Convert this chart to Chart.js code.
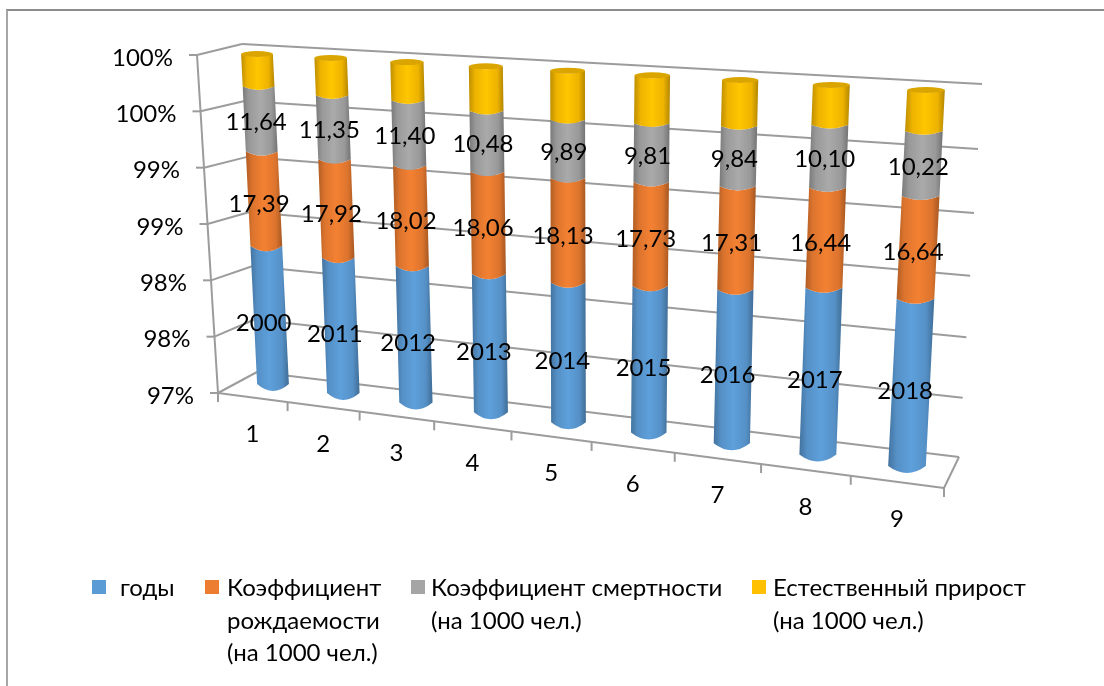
<!DOCTYPE html>
<html>
<head>
<meta charset="utf-8">
<style>
  html, body { margin: 0; padding: 0; background: #fff; overflow: hidden; }
  #frame { position: absolute; left: 6px; top: 9px; width: 1200px; height: 800px; border: 2px solid #a6a6a6; border-top-color: #8c8c8c; }
  canvas { position: absolute; left: 0; top: 0; }
  .legend-item { position: absolute; top: 571px; font: 24px/32.5px Lato, 'Noto Sans', sans-serif; color: #000; white-space: nowrap; }
  .legend-box { position: absolute; top: 9px; width: 14px; height: 14px; }
</style>
<script src="https://cdn.jsdelivr.net/npm/chart.js@4"></script>
</head>
<body>
<div id="frame"></div>
<canvas id="chart" width="1104" height="686"></canvas>
<div id="legend"></div>
<script>
const categories = ["1", "2", "3", "4", "5", "6", "7", "8", "9"];
const years = [2000, 2011, 2012, 2013, 2014, 2015, 2016, 2017, 2018];
const birthRate = [17.39, 17.92, 18.02, 18.06, 18.13, 17.73, 17.31, 16.44, 16.64];
const deathRate = [11.64, 11.35, 11.40, 10.48, 9.89, 9.81, 9.84, 10.10, 10.22];
const naturalGrowth = [5.75, 6.57, 6.62, 7.58, 8.24, 7.92, 7.47, 6.34, 6.42];
const yTickLabels = ["97%", "98%", "98%", "99%", "99%", "100%", "100%"];

const legendYears = ["годы"];
const legendBirth = ["Коэффициент", "рождаемости", "(на 1000 чел.)"];
const legendDeath = ["Коэффициент смертности", "(на 1000 чел.)"];
const legendGrowth = ["Естественный прирост", "(на 1000 чел.)"];

const FONT = "Lato, 'Noto Sans', sans-serif";
const GRID = "#9c9c9c";

// 100% stacked: every series becomes a floating [from, to] range on the percent axis
const series = [years, birthRate, deathRate, naturalGrowth];
const totals = categories.map((c, i) => series.reduce((sum, s) => sum + s[i], 0));
let running = categories.map(() => 0);
const ranges = series.map(s => {
    const out = s.map((v, i) => {
        const from = running[i];
        running[i] = from + v / totals[i] * 100;
        return [from, running[i]];
    });
    return out;
});

// square -> quad homography, the 3D look of the chart comes from these
function homography(q) {
    const [p0, p1, p2, p3] = q;
    const dx1 = p1[0] - p2[0], dx2 = p3[0] - p2[0], sx = p0[0] - p1[0] + p2[0] - p3[0];
    const dy1 = p1[1] - p2[1], dy2 = p3[1] - p2[1], sy = p0[1] - p1[1] + p2[1] - p3[1];
    const den = dx1 * dy2 - dx2 * dy1;
    const g = (sx * dy2 - dx2 * sy) / den;
    const h = (dx1 * sy - sx * dy1) / den;
    const a = p1[0] - p0[0] + g * p1[0], b = p3[0] - p0[0] + h * p3[0], c = p0[0];
    const d = p1[1] - p0[1] + g * p1[1], e = p3[1] - p0[1] + h * p3[1], f = p0[1];
    return (u, v) => {
        const w = g * u + h * v + 1;
        return [(a * u + b * v + c) / w, (d * u + e * v + f) / w];
    };
}

// corners are top-left, top-right, bottom-right, bottom-left of each plane
const backWall = homography([[242, 44], [982, 84], [959, 457], [257, 372]]);
const floorPlane = homography([[257, 372], [959, 457], [944, 488], [218, 393]]);
const frontPlane = homography([[197, 55], [972, 92], [944, 488], [218, 393]]);
const barPlane = homography([[257, 54], [926, 90], [907, 466], [273, 384]]);
const axisTop = [197, 55], axisBottom = [218, 393];

// front edge of the left wall is evenly spaced
function axisPoint(v) {
    return [axisTop[0] + (axisBottom[0] - axisTop[0]) * v, axisTop[1] + (axisBottom[1] - axisTop[1]) * v];
}

function toU(chart, px) { return (px - chart.chartArea.left) / chart.chartArea.width; }
function toV(chart, py) { return (py - chart.chartArea.top) / chart.chartArea.height; }

// bar plane runs from the centre of the first bar to the centre of the last one
function barU(chart, px) {
    const x = chart.scales.x;
    return (px - x.getPixelForValue(0)) / (x.getPixelForValue(categories.length - 1) - x.getPixelForValue(0));
}
function projectBar(chart, px, py) {
    return barPlane(barU(chart, px), toV(chart, py));
}

function line(ctx, a, b) {
    ctx.beginPath();
    ctx.moveTo(a[0], a[1]);
    ctx.lineTo(b[0], b[1]);
    ctx.stroke();
}

function shade(color, f) {
    const n = parseInt(color.slice(1), 16);
    const ch = s => Math.min(255, Math.round(((n >> s) & 255) * f));
    return `rgb(${ch(16)},${ch(8)},${ch(0)})`;
}

// Cylinder segment drawn from the bar element chart.js laid out
function drawCylinder(chart, bar, color, withLid) {
    const ctx = chart.ctx;
    const top = Math.min(bar.y, bar.base);
    const bottom = Math.min(Math.max(bar.y, bar.base), chart.chartArea.bottom);
    const t = projectBar(chart, bar.x, top), b = projectBar(chart, bar.x, bottom);
    // bars get only slightly wider towards the viewer
    const half = bar.width / 2 * (0.54 + 0.1 * barU(chart, bar.x));
    const depth = v => 3 + 4 * v;
    const topRy = depth(toV(chart, top)), botRy = depth(toV(chart, bottom));

    const grad = ctx.createLinearGradient(Math.min(t[0], b[0]) - half, 0, Math.max(t[0], b[0]) + half, 0);
    grad.addColorStop(0, shade(color, 0.74));
    grad.addColorStop(0.18, shade(color, 0.93));
    grad.addColorStop(0.5, shade(color, 1.03));
    grad.addColorStop(0.82, shade(color, 0.93));
    grad.addColorStop(1, shade(color, 0.7));

    ctx.save();
    ctx.fillStyle = grad;
    ctx.beginPath();
    ctx.moveTo(t[0] - half, t[1]);
    ctx.lineTo(b[0] - half, b[1]);
    ctx.quadraticCurveTo(b[0], b[1] + botRy * 2, b[0] + half, b[1]);
    ctx.lineTo(t[0] + half, t[1]);
    ctx.quadraticCurveTo(t[0], t[1] + topRy * 2, t[0] - half, t[1]);
    ctx.closePath();
    ctx.fill();

    if (withLid) {
        ctx.fillStyle = shade(color, 0.86);
        ctx.beginPath();
        ctx.ellipse(t[0], t[1], half, topRy, 0, 0, Math.PI * 2);
        ctx.fill();
    }
    ctx.restore();
}

// per series nudge of the value labels
const labelDx = [-6, -5, -4];
const labelDy = [8, 5, 3];

const box3d = {
    id: "box3d",
    beforeDatasetsDraw(chart) {
        const ctx = chart.ctx, y = chart.scales.y, x = chart.scales.x;
        ctx.save();
        ctx.strokeStyle = GRID;
        ctx.lineWidth = 2;
        ctx.fillStyle = "#000";
        ctx.font = "24px " + FONT;
        ctx.textBaseline = "middle";

        y.ticks.forEach((tick, i) => {
            const v = toV(chart, y.getPixelForTick(i));
            const p = axisPoint(v);
            line(ctx, backWall(0, v), backWall(1, v));
            line(ctx, p, backWall(0, v));
            line(ctx, [p[0] - 8, p[1]], p);
            ctx.textAlign = "right";
            ctx.fillText(yTickLabels[i], p[0] - 24, p[1] + 3);
        });

        line(ctx, axisPoint(0), axisPoint(1));
        line(ctx, floorPlane(0, 1), floorPlane(1, 1));
        line(ctx, floorPlane(1, 1), floorPlane(1, 0));

        for (let i = 0; i <= categories.length; i++) {
            const p = frontPlane(i / categories.length, 1);
            line(ctx, p, [p[0], p[1] + 9]);
        }

        ctx.textAlign = "center";
        categories.forEach((c, i) => {
            const p = frontPlane(toU(chart, x.getPixelForValue(i)), 1);
            ctx.fillText(c, p[0], p[1] + 37);
        });
        ctx.restore();
    },
    beforeDatasetDraw(chart, args) {
        const color = chart.data.datasets[args.index].backgroundColor;
        args.meta.data.forEach(bar => drawCylinder(chart, bar, color, args.index === series.length - 1));
        return false;
    },
    afterDatasetsDraw(chart) {
        const ctx = chart.ctx;
        ctx.save();
        ctx.fillStyle = "#000";
        ctx.font = "24px " + FONT;
        ctx.textAlign = "center";
        ctx.textBaseline = "middle";
        // the growth series carries no labels in this chart
        [0, 1, 2].forEach(d => {
            chart.getDatasetMeta(d).data.forEach((bar, i) => {
                const bottom = Math.min(bar.base, chart.chartArea.bottom);
                const p = projectBar(chart, bar.x, (bar.y + bottom) / 2);
                const text = d === 0 ? String(series[d][i]) : series[d][i].toFixed(2).replace(".", ",");
                ctx.fillText(text, p[0] + labelDx[d], p[1] + labelDy[d]);
            });
        });
        ctx.restore();
    }
};

const chart = new Chart(document.getElementById("chart"), {
    type: "bar",
    data: {
        labels: categories,
        datasets: [
            { label: legendYears, data: ranges[0], backgroundColor: "#5B9BD5", order: 3 },
            { label: legendBirth, data: ranges[1], backgroundColor: "#ED7D31", order: 2 },
            { label: legendDeath, data: ranges[2], backgroundColor: "#A5A5A5", order: 1 },
            { label: legendGrowth, data: ranges[3], backgroundColor: "#FFC000", order: 0 }
        ]
    },
    options: {
        responsive: false,
        animation: false,
        grouped: false,
        barPercentage: 1,
        categoryPercentage: 0.48,
        plugins: {
            tooltip: { enabled: false },
            legend: { display: false }
        },
        scales: {
            x: { type: "category", display: false, grid: { display: false } },
            y: { type: "linear", display: false, min: 97, max: 100, ticks: { stepSize: 0.5 }, grid: { display: false } }
        }
    },
    plugins: [box3d]
});

// html legend, the built-in one cannot lay out wrapped labels in columns
const legendBoxLeft = [92, 205, 411, 752];
const legendTextLeft = [120, 227, 431, 773];
chart.data.datasets.forEach((d, i) => {
    const item = document.createElement("div");
    item.className = "legend-item";
    item.style.left = legendTextLeft[i] + "px";
    item.innerHTML = d.label.join("<br>");
    const box = document.createElement("div");
    box.className = "legend-box";
    box.style.left = (legendBoxLeft[i] - legendTextLeft[i]) + "px";
    box.style.background = d.backgroundColor;
    item.appendChild(box);
    document.getElementById("legend").appendChild(item);
});
</script>
</body>
</html>
